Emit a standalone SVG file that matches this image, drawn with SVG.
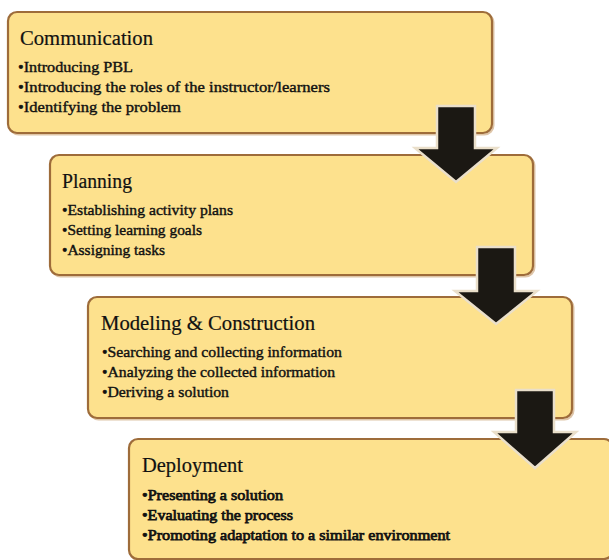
<svg xmlns="http://www.w3.org/2000/svg" width="609" height="560" viewBox="0 0 609 560">
<style>
.box{fill:#fde18d;stroke:#9e6c3a;stroke-width:2.2}
.shadow{fill:none;stroke:#c9a070;stroke-width:2;opacity:0.6}
.title{font-family:"Liberation Serif",serif;font-size:20px;fill:#111;stroke:#111;stroke-width:0.2}
.item{font-family:"Liberation Serif",serif;font-size:15px;fill:#111;stroke:#111;stroke-width:0.4}
.bold{stroke-width:0.75}
.arrow{fill:#1b1813;stroke:#eadfca;stroke-width:2.5;stroke-linejoin:miter}
</style>
<rect width="609" height="560" fill="#ffffff"/>
<g id="communication">
<rect class="shadow" x="9.5" y="13.5" width="484" height="121" rx="9"/>
<rect class="box" x="8" y="12" width="484" height="121" rx="9"/>
<text class="title" x="20" y="45" textLength="133" lengthAdjust="spacingAndGlyphs">Communication</text>
<text class="item" x="18" y="72" textLength="115" lengthAdjust="spacingAndGlyphs">•Introducing PBL</text>
<text class="item" x="18" y="92" textLength="312" lengthAdjust="spacingAndGlyphs">•Introducing the roles of the instructor/learners</text>
<text class="item" x="18" y="112" textLength="163" lengthAdjust="spacingAndGlyphs">•Identifying the problem</text>
</g>
<g id="planning">
<rect class="shadow" x="51.5" y="156.5" width="483" height="120" rx="9"/>
<rect class="box" x="50" y="155" width="483" height="120" rx="9"/>
<text class="title" x="62" y="188" textLength="70" lengthAdjust="spacingAndGlyphs">Planning</text>
<text class="item" x="62" y="215" textLength="171" lengthAdjust="spacingAndGlyphs">•Establishing activity plans</text>
<text class="item" x="62" y="235" textLength="140" lengthAdjust="spacingAndGlyphs">•Setting learning goals</text>
<text class="item" x="62" y="255" textLength="103" lengthAdjust="spacingAndGlyphs">•Assigning tasks</text>
</g>
<g id="modeling">
<rect class="shadow" x="89.5" y="298.5" width="484" height="121" rx="9"/>
<rect class="box" x="88" y="297" width="484" height="121" rx="9"/>
<text class="title" x="101" y="330" textLength="214" lengthAdjust="spacingAndGlyphs">Modeling &amp; Construction</text>
<text class="item" x="102" y="357" textLength="240" lengthAdjust="spacingAndGlyphs">•Searching and collecting information</text>
<text class="item" x="102" y="377" textLength="233" lengthAdjust="spacingAndGlyphs">•Analyzing the collected information</text>
<text class="item" x="102" y="397" textLength="127" lengthAdjust="spacingAndGlyphs">•Deriving a solution</text>
</g>
<g id="deployment">
<rect class="shadow" x="130.5" y="440.5" width="484" height="120" rx="9"/>
<rect class="box" x="129" y="439" width="484" height="120" rx="9"/>
<text class="title" x="142" y="472" textLength="101" lengthAdjust="spacingAndGlyphs">Deployment</text>
<text class="item bold" x="142" y="500" textLength="141" lengthAdjust="spacingAndGlyphs">•Presenting a solution</text>
<text class="item bold" x="142" y="520" textLength="151" lengthAdjust="spacingAndGlyphs">•Evaluating the process</text>
<text class="item bold" x="142" y="540" textLength="308" lengthAdjust="spacingAndGlyphs">•Promoting adaptation to a similar environment</text>
</g>
<g id="connectors">
<polygon class="arrow" points="437,106 475,106 475,148 497,148 456,182 415,148 437,148"/>
<polygon class="arrow" points="477,247 515,247 515,291 537,291 496,324 455,291 477,291"/>
<polygon class="arrow" points="516,390 554,390 554,432 576,432 535,468 494,432 516,432"/>
</g>
</svg>
